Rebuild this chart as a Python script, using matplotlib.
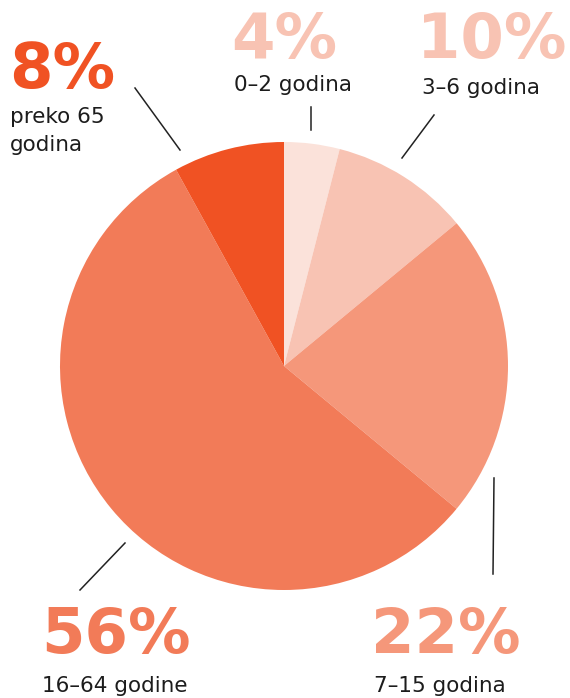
import matplotlib
matplotlib.use("Agg")
import matplotlib.pyplot as plt

categories = ["0–2 godina", "3–6 godina", "7–15 godina", "16–64 godine", "preko 65\ngodina"]
values = [4, 10, 22, 56, 8]
pct_labels = ["4%", "10%", "22%", "56%", "8%"]
slice_colors = ["#fbe2da", "#f8c3b3", "#f5977a", "#f27b58", "#f05223"]
pct_colors = ["#f8c3b3", "#f8c3b3", "#f5977a", "#f27b58", "#f05223"]

W, H = 570, 698
fig = plt.figure(figsize=(W / 100, H / 100), dpi=100)
ax = fig.add_axes([0, 0, 1, 1])

def Y(y):
    return H - y

ax.pie(values, startangle=90, counterclock=False, colors=slice_colors,
       center=(284, Y(366)), radius=224, wedgeprops=dict(linewidth=0))
ax.set_xlim(0, W)
ax.set_ylim(0, H)
ax.set_aspect("equal")
ax.axis("off")

txt_color = "#1c1c1c"
big = dict(fontsize=45, fontweight="bold", family="DejaVu Sans")
small = dict(fontsize=15.5, family="DejaVu Sans", color=txt_color)

# (pct x, pct y center, label x, label y center, ha)
layout = [
    (231, 41, 234, 85, "left"),
    (417, 41, 422, 88, "left"),
    (371, 636, 374, 686, "left"),
    (41, 636, 42, 686, "left"),
    (9, 71, 10, 131, "left"),
]
for i, (px, py, lx, ly, ha) in enumerate(layout):
    ax.text(px, Y(py), pct_labels[i], color=pct_colors[i], ha=ha, va="center", **big)
    ax.text(lx, Y(ly), categories[i], ha=ha, va="center", linespacing=1.45, **small)

lines = [
    ((311, 107), (311, 130)),
    ((434, 115), (402, 158)),
    ((494, 478), (493, 574)),
    ((125, 543), (80, 590)),
    ((135, 88), (180, 150)),
]
for (x0, y0), (x1, y1) in lines:
    ax.plot([x0, x1], [Y(y0), Y(y1)], color="#222222", lw=1.1)

fig.savefig("out.png", dpi=100)
